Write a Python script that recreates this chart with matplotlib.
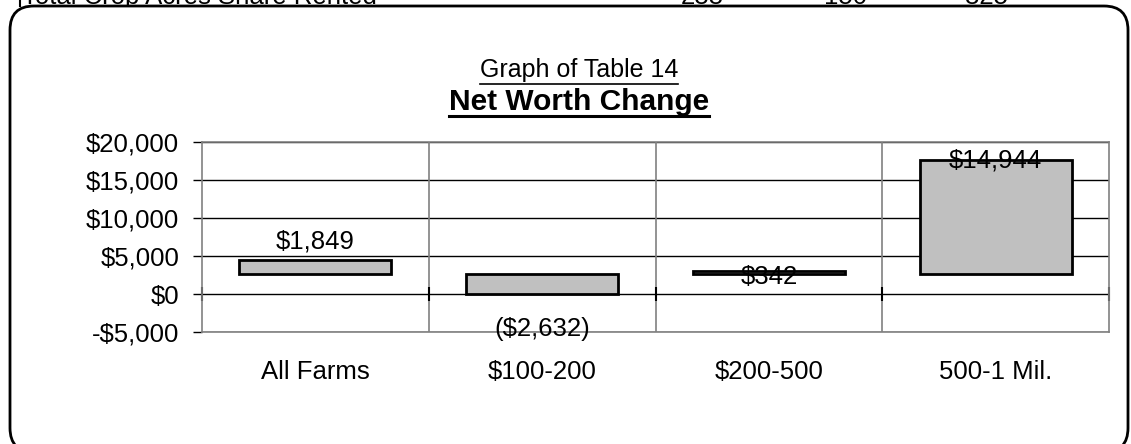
import matplotlib
matplotlib.use("Agg")
from matplotlib import pyplot as plt
from matplotlib.patches import FancyBboxPatch
from matplotlib.lines import Line2D
import numpy as np

categories = ["All Farms", "$100-200", "$200-500", "500-1 Mil."]
changes = [1849, -2632, 342, 14944]
# invisible base series of the floating bars
bases = [2632, 0, 2632, 2632]
heights = [1849, 2632, 342, 14944]
label_offsets = [18, -55, -6, 0]   # pixels from the bar top
yticks = [-5000, 0, 5000, 10000, 15000, 20000]

top_row = ["Total Crop Acres Share Rented", "288", "150", "325"]

plt.rcParams['font.family'] = ['Liberation Sans', 'DejaVu Sans']
FS = 18.5

W, H = 1131, 444
fig = plt.figure(figsize=(W / 100, H / 100), dpi=100)

def py(y):
    # figure fraction from a pixel row counted from the top
    return 1 - y / H

# table text sitting above the chart box, cut off by it
fig.text(22 / W, py(4), top_row[0], fontsize=FS, va='baseline', ha='left', zorder=0)
for xx, t in zip([702, 846, 987], top_row[1:]):
    fig.text(xx / W, py(4), t, fontsize=FS, va='baseline', ha='center', zorder=0)
fig.add_artist(Line2D([20 / W, 20 / W], [py(0), py(6)], color='black', lw=1.5, zorder=0))

# rounded chart frame
box = FancyBboxPatch((10, -8), 1118, H - 6 + 8, boxstyle="round,pad=0,rounding_size=24",
                     transform=None, facecolor='white', edgecolor='black', lw=2, zorder=1)
fig.patches.append(box)

ax = fig.add_axes([202 / W, py(332), (1109 - 202) / W, (332 - 142) / H], zorder=2)
ax.set_facecolor('none')

x = np.arange(len(categories))
ax.bar(x, heights, bottom=bases, width=0.67, color='#c0c0c0', edgecolor='black', lw=2, zorder=3)

ax.set_xlim(-0.5, len(categories) - 0.5)
ax.set_ylim(-5000, 20000)
ax.set_yticks(yticks)
ax.set_yticklabels([("-$%s" % format(-v, ',')) if v < 0 else "$%s" % format(v, ',') for v in yticks])
ax.tick_params(axis='y', length=6.5, width=1, direction='out', pad=10, labelsize=FS)
ax.set_xticks([])

for v in yticks:
    ax.axhline(v, color='black', lw=1, zorder=1)
for b in [0.5, 1.5, 2.5]:
    ax.axvline(b, color='#808080', lw=1.2, zorder=1)
for s in ax.spines.values():
    s.set_color('#808080')
    s.set_linewidth(1.2)
ax.vlines([-0.5, 0.5, 1.5, 2.5, 3.5], -900, 900, color='black', lw=1.5, zorder=2, clip_on=False)

def money(v):
    s = "$" + format(abs(v), ',')
    return "(" + s + ")" if v < 0 else s

for i in range(len(categories)):
    ax.annotate(money(changes[i]), (x[i], bases[i] + heights[i]), xytext=(0, label_offsets[i]),
                textcoords='offset pixels', ha='center', va='center', fontsize=FS, zorder=4)

for i, c in enumerate(categories):
    ax.text(x[i], (332 - 379) / 190, c, transform=ax.get_xaxis_transform(),
            ha='center', va='baseline', fontsize=FS)

# titles, underlined
t1 = fig.text(579 / W, py(77), "Graph of Table 14", fontsize=18, ha='center', va='baseline', zorder=3)
t2 = fig.text(579 / W, py(110), "Net Worth Change", fontsize=21.5, fontweight='bold',
              ha='center', va='baseline', zorder=3)
r = fig.canvas.get_renderer()
for t, yy, lw in [(t1, 84, 1.2), (t2, 116, 2.2)]:
    bb = t.get_window_extent(r)
    fig.add_artist(Line2D([bb.x0 / W, bb.x1 / W], [py(yy), py(yy)], color='black', lw=lw, zorder=3))

fig.savefig("out.png", dpi=100)
